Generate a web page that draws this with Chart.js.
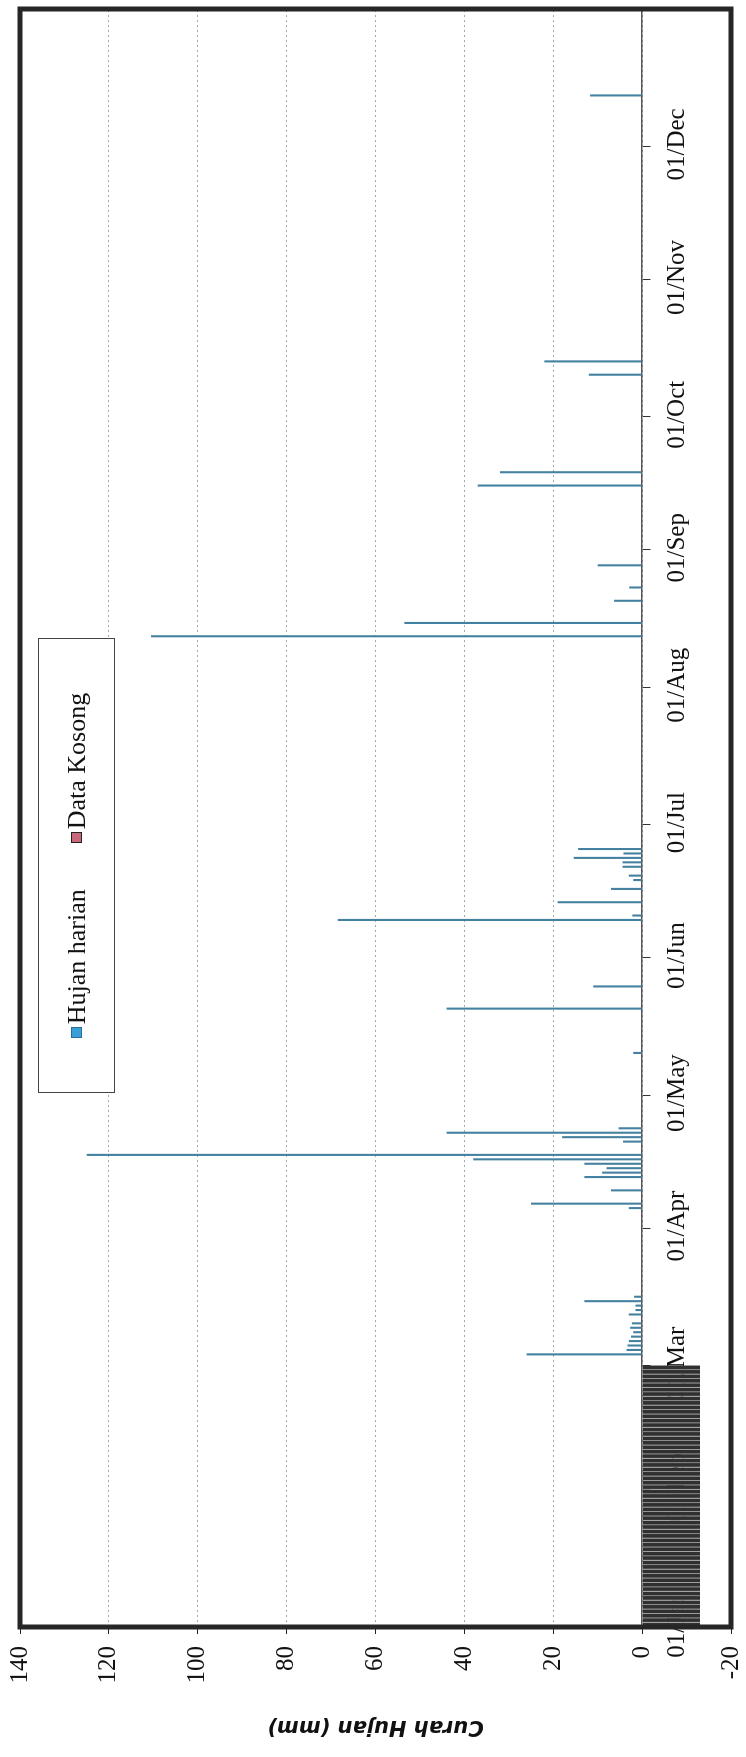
<!DOCTYPE html>
<html>
<head>
<meta charset="utf-8">
<script src="https://cdn.jsdelivr.net/npm/chart.js@4/dist/chart.umd.min.js"></script>
<style>
html,body{margin:0;padding:0;background:#fff;overflow:hidden;width:746px;height:1757px;}
#wrap{position:absolute;left:0;top:0;width:1757px;height:746px;transform-origin:0 0;transform:translate(0,1757px) rotate(-90deg);background:#fff;}
#c{position:absolute;left:0;top:0;}
#legend{position:absolute;left:664px;top:38px;width:455px;height:77px;box-sizing:border-box;border:1px solid #444;background:#fff;display:flex;align-items:center;justify-content:center;font-family:'Liberation Serif',serif;font-size:26px;color:#111;}
.item{display:flex;align-items:center;margin:0 23px;white-space:nowrap}
.sw{width:11px;height:11px;margin-right:3px;box-sizing:border-box}
</style>
</head>
<body>
<div id="wrap">
  <canvas id="c" width="1757" height="746"></canvas>
  <div id="legend"></div>
</div>
<script>
// ---- DATA ----
const monthTickLabels = ['01/Jan','01/Feb','01/Mar','01/Apr','01/May','01/Jun','01/Jul','01/Aug','01/Sep','01/Oct','01/Nov','01/Dec'];
const monthStartDay = [0,31,59,90,120,151,181,212,243,273,304,334];
const valueTicks = [-20,0,20,40,60,80,100,120,140];

// Hujan harian: day of year (0 = 01/Jan) and rainfall (mm)
const rainDays   = [61,62,63,64,65,66,67,68,70,71,72,73,74,
                    94,95,98,101,102,103,104,105,106,109,110,111,112,
                    129,139,144,
                    159,160,163,166,168,169,171,172,173,174,175,
                    223,226,231,234,239,
                    257,260,
                    282,285,
                    345];
const rainValues = [26,3.5,3.3,3,2.5,2,2.7,2.3,3,1.5,1.5,13,1.8,
                    3,25,7,13,9,8,13,38,125,4.3,18,44,5.3,
                    2,44,11,
                    68.5,2.2,19,7,2,3,4.4,4.4,15.4,4.2,14.4,
                    110.5,53.5,6.3,2.9,10,
                    37,32,
                    12,22,
                    11.7];

// Data Kosong (missing data): 01/Jan .. 28/Feb
const missingDays = [0,1,2,3,4,5,6,7,8,9,10,11,12,13,14,15,16,17,18,19,20,21,22,23,24,25,26,27,28,29,
                     30,31,32,33,34,35,36,37,38,39,40,41,42,43,44,45,46,47,48,49,50,51,52,53,54,55,56,57,58];
const missingValues = [-13,-13,-13,-13,-13,-13,-13,-13,-13,-13,-13,-13,-13,-13,-13,-13,-13,-13,-13,-13,
                       -13,-13,-13,-13,-13,-13,-13,-13,-13,-13,-13,-13,-13,-13,-13,-13,-13,-13,-13,-13,
                       -13,-13,-13,-13,-13,-13,-13,-13,-13,-13,-13,-13,-13,-13,-13,-13,-13,-13,-13];

const seriesNames = ['Hujan harian','Data Kosong'];
const legendSwatch = [{fill:'#3a9fd6',border:'#2a6f9a'},{fill:'#c8687a',border:'#222'}];

// ---- CHART ----
const framePlugin = {
  id:'frame',
  afterDatasetsDraw(chart){
    const a = chart.chartArea, ctx = chart.ctx;
    ctx.save();
    ctx.lineWidth = 5;
    ctx.strokeStyle = '#262626';
    ctx.strokeRect(a.left, a.top, a.right - a.left, a.bottom - a.top);
    ctx.restore();
  }
};

const chart = new Chart(document.getElementById('c'), {
  type: 'bar',
  data: {
    datasets: [
      {
        label: seriesNames[0],
        data: rainDays.map((d,i)=>({x:d, y:rainValues[i]})),
        backgroundColor: '#44809f',
        borderWidth: 0,
        grouped: false,
        categoryPercentage: 1,
        barPercentage: 0.47,
        order: 1
      },
      {
        label: seriesNames[1],
        data: missingDays.map((d,i)=>({x:d, y:missingValues[i]})),
        backgroundColor: '#303030',
        borderColor: '#a0a0a0',
        borderWidth: { left: 1, right: 0, top: 0, bottom: 0 },
        borderSkipped: false,
        grouped: false,
        categoryPercentage: 1,
        barPercentage: 1,
        order: 2
      }
    ]
  },
  options: {
    responsive: false,
    animation: false,
    devicePixelRatio: 1,
    layout: { padding: { top: 20, right: 9, bottom: 15, left: 0 } },
    plugins: { legend: { display: false }, tooltip: { enabled: false } },
    scales: {
      x: {
        type: 'linear',
        min: -0.5,
        max: 364.5,
        offset: false,
        position: { y: 0 },
        afterBuildTicks: (s) => { s.ticks = monthStartDay.map(d => ({ value: d - 0.5 })); },
        afterFit: (s) => { s.paddingLeft = 0; s.paddingRight = 0; s.paddingTop = 0; s.paddingBottom = 0; },
        ticks: {
          autoSkip: false, maxRotation: 0, minRotation: 0,
          callback: (v, i) => monthTickLabels[i],
          font: { family: 'Liberation Serif', size: 25 },
          color: '#111',
          padding: 12,
          labelOffset: 2
        },
        grid: { offset: false, drawOnChartArea: false, drawTicks: true, tickLength: 8, tickColor: '#333', tickWidth: 1 },
        border: { display: true, color: '#555', width: 1.5 }
      },
      y: {
        min: -20,
        max: 140,
        afterBuildTicks: (s) => { s.ticks = valueTicks.map(v => ({ value: v })); },
        afterFit: (s) => { s.width = 130; s.paddingTop = 0; s.paddingBottom = 0; },
        ticks: {
          font: { family: 'Liberation Serif', size: 25 },
          color: '#111',
          padding: 12
        },
        grid: { offset: false, color: '#9ea9b6', lineWidth: 1, tickColor: '#222', tickLength: 7, tickBorderDash: [] },
        border: { display: false, dash: [2, 3] },
        title: {
          display: true,
          text: 'Curah Hujan (mm)',
          font: { family: 'DejaVu Sans', size: 21, weight: 'bold', style: 'italic' },
          color: '#111',
          padding: { top: 18, bottom: 0 }
        }
      }
    }
  },
  plugins: [framePlugin]
});

// HTML legend built from the chart's datasets
const lg = document.getElementById('legend');
chart.data.datasets.forEach((ds, i) => {
  const it = document.createElement('div'); it.className = 'item';
  const sw = document.createElement('span'); sw.className = 'sw';
  sw.style.background = legendSwatch[i].fill;
  sw.style.border = '1.5px solid ' + legendSwatch[i].border;
  const tx = document.createElement('span'); tx.textContent = ds.label;
  it.appendChild(sw); it.appendChild(tx); lg.appendChild(it);
});
</script>
</body>
</html>
